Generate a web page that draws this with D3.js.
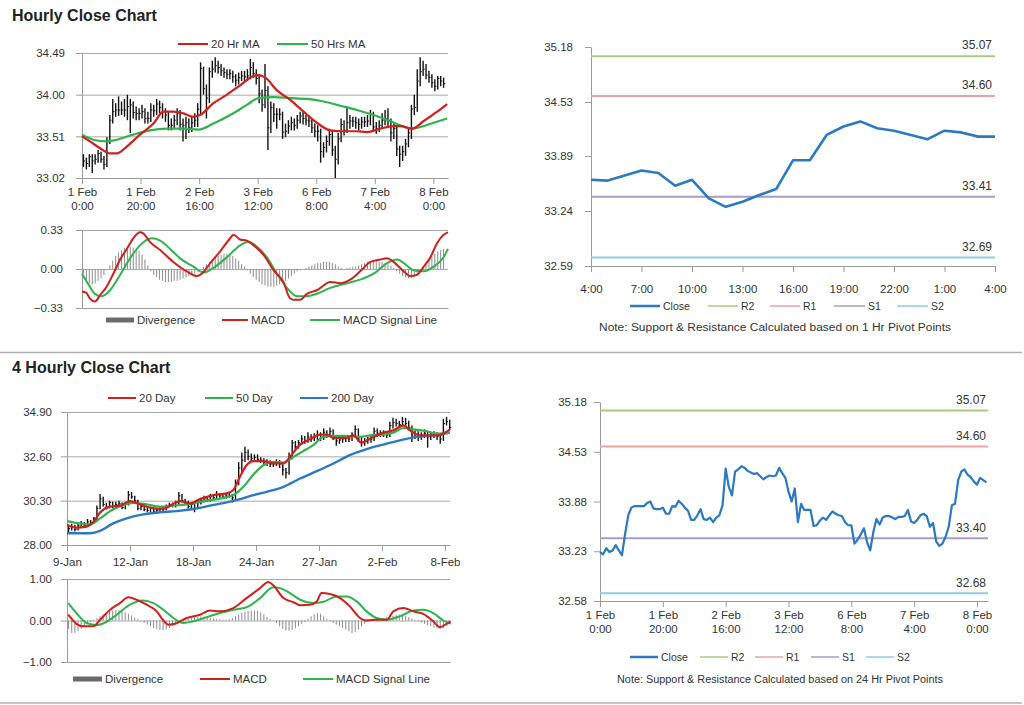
<!DOCTYPE html>
<html><head><meta charset="utf-8">
<script src="https://cdn.jsdelivr.net/npm/d3@7"></script>
<style>
body{margin:0;background:#fff;}
svg{display:block;}
</style></head><body>
<svg id="c" width="1024" height="705"></svg>
<script>
// ---------------- DATA ----------------
// Hourly series (1 Feb 0:00 .. 8 Feb ~3:00), one value per trading hour
const hourlyClose = [33.22,33.19,33.27,33.22,33.24,33.31,33.24,33.18,33.46,33.70,33.80,33.82,33.82,33.82,33.82,33.86,33.88,33.79,33.78,33.78,33.80,33.72,33.72,33.82,33.81,33.89,33.85,33.80,33.76,33.64,33.64,33.70,33.78,33.65,33.64,33.67,33.61,33.67,33.70,33.83,34.31,34.07,33.96,34.27,34.30,34.34,34.32,34.28,34.26,34.24,34.25,34.21,34.17,34.20,34.22,34.21,34.22,34.32,34.25,34.19,34.01,33.88,34.05,33.61,33.85,33.77,33.77,33.77,33.56,33.57,33.63,33.67,33.64,33.70,33.75,33.72,33.70,33.69,33.61,33.57,33.57,33.33,33.38,33.45,33.53,33.35,33.24,33.48,33.65,33.58,33.67,33.69,33.69,33.67,33.65,33.68,33.68,33.69,33.77,33.62,33.60,33.64,33.70,33.72,33.69,33.55,33.60,33.36,33.30,33.33,33.42,33.55,33.83,33.85,34.16,34.27,34.30,34.23,34.20,34.14,34.10,34.19,34.16,34.13];
const hourlyHigh = [33.30,33.26,33.30,33.30,33.30,33.35,33.33,33.28,33.50,33.76,33.95,33.90,33.98,33.92,33.95,34.00,33.95,33.92,33.86,33.84,33.88,33.84,33.80,33.90,33.88,33.95,33.93,33.90,33.84,33.80,33.72,33.76,33.84,33.82,33.72,33.74,33.72,33.74,33.78,33.90,34.38,34.33,34.12,34.32,34.40,34.44,34.40,34.36,34.32,34.30,34.30,34.28,34.24,34.26,34.28,34.28,34.30,34.42,34.38,34.30,34.24,34.06,34.36,34.10,33.92,33.90,33.84,33.84,33.80,33.66,33.70,33.74,33.72,33.76,33.80,33.80,33.76,33.76,33.72,33.66,33.64,33.60,33.44,33.52,33.60,33.58,33.40,33.55,33.72,33.70,33.85,33.76,33.74,33.74,33.72,33.74,33.74,33.76,33.82,33.80,33.68,33.70,33.78,33.82,33.84,33.72,33.66,33.62,33.40,33.40,33.48,33.60,33.88,34.00,34.30,34.44,34.40,34.36,34.28,34.24,34.18,34.22,34.22,34.20];
const hourlyLow = [33.15,33.12,33.15,33.08,33.18,33.20,33.20,33.12,33.15,33.42,33.66,33.74,33.75,33.76,33.74,33.70,33.55,33.72,33.70,33.70,33.72,33.66,33.66,33.68,33.74,33.76,33.78,33.72,33.68,33.58,33.58,33.60,33.64,33.58,33.45,33.48,33.55,33.56,33.62,33.62,33.76,34.00,33.72,33.90,34.20,34.26,34.25,34.22,34.20,34.18,34.18,34.14,34.10,34.12,34.16,34.15,34.16,34.18,34.20,34.12,33.90,33.80,33.84,33.35,33.55,33.68,33.60,33.70,33.48,33.50,33.54,33.58,33.58,33.60,33.66,33.65,33.64,33.62,33.55,33.50,33.45,33.20,33.26,33.32,33.40,33.28,33.02,33.18,33.44,33.52,33.55,33.60,33.62,33.60,33.58,33.60,33.62,33.62,33.64,33.56,33.54,33.56,33.60,33.64,33.62,33.45,33.48,33.28,33.15,33.22,33.28,33.38,33.48,33.76,33.80,34.10,34.22,34.18,34.14,34.08,34.04,34.06,34.10,34.08];
const ma20Hr = [[0,33.51],[2.7,33.45],[6.2,33.37],[9.6,33.31],[11.9,33.31],[15.3,33.39],[19.8,33.53],[24.4,33.66],[27.8,33.80],[31.2,33.80],[34.6,33.78],[38.1,33.74],[40.3,33.76],[44.9,33.90],[49.5,34.00],[54,34.11],[58.6,34.22],[60.3,34.23],[62.6,34.20],[66.6,34.05],[71.1,33.94],[75.7,33.80],[80.2,33.67],[84.8,33.58],[89.3,33.57],[93.9,33.57],[97.3,33.56],[101.9,33.60],[106.4,33.63],[108.7,33.63],[112.7,33.60],[116.7,33.69],[121.3,33.80],[124.7,33.89]];
const ma50Hr = [[0,33.53],[3.9,33.47],[8.4,33.45],[11.9,33.47],[17.5,33.53],[23.2,33.58],[28.9,33.60],[34.6,33.60],[39.8,33.59],[44.9,33.66],[50.6,33.76],[56.3,33.88],[60.3,33.96],[65.4,33.97],[71.1,33.96],[76.8,33.95],[82.5,33.92],[88.2,33.87],[93.9,33.82],[99.6,33.76],[105.3,33.69],[108.7,33.64],[112.7,33.60],[115.6,33.62],[120.1,33.67],[124.7,33.72]];
const hourlyMacd = [[0,-0.19],[1.4,-0.20],[2.7,-0.25],[4.4,-0.275],[6.2,-0.22],[8.4,-0.15],[10.7,-0.04],[13,0.08],[15.3,0.17],[17.5,0.26],[19.8,0.31],[21,0.30],[23.2,0.23],[26.7,0.16],[31.2,0.06],[35.8,-0.02],[39.2,-0.06],[40.9,-0.04],[43.8,0.05],[47.2,0.15],[50.6,0.26],[51.7,0.29],[54,0.25],[56.3,0.24],[58.6,0.20],[62,0.12],[65.4,-0.01],[68.8,-0.11],[71.1,-0.25],[72.2,-0.26],[74.5,-0.26],[76.8,-0.21],[80.2,-0.18],[84.8,-0.11],[88.2,-0.12],[91.6,-0.09],[95,-0.02],[98.5,0.06],[101.9,0.08],[104.2,0.09],[106.4,0.06],[109.9,-0.02],[112.1,-0.06],[114.4,-0.05],[116.7,0.02],[119,0.10],[121.3,0.22],[123.5,0.29],[125,0.31]];
const hourlySignal = [[0,-0.04],[2.2,-0.13],[4.4,-0.21],[6.7,-0.23],[9.6,-0.18],[13,-0.05],[16.4,0.09],[19.8,0.20],[23.8,0.26],[26.7,0.24],[30.1,0.17],[33.5,0.09],[38.1,0.02],[41.5,-0.03],[44.9,0.01],[49.5,0.10],[54,0.20],[56.9,0.23],[59.7,0.19],[63.1,0.10],[66.6,-0.04],[70,-0.16],[73.4,-0.23],[76.8,-0.23],[80.2,-0.21],[84.8,-0.16],[90.5,-0.12],[95,-0.09],[99.6,-0.04],[104.2,0.05],[107.6,0.08],[109.9,0.05],[113.3,-0.01],[116.7,-0.02],[120.1,0.02],[123.5,0.10],[125,0.17]];
const hourlyDiv = [-0.04,-0.09,-0.12,-0.13,-0.12,-0.10,-0.08,-0.05,-0.01,0.03,0.07,0.11,0.14,0.16,0.18,0.19,0.19,0.18,0.17,0.15,0.12,0.08,0.03,-0.02,-0.05,-0.07,-0.09,-0.10,-0.11,-0.11,-0.11,-0.10,-0.10,-0.09,-0.08,-0.07,-0.06,-0.05,-0.04,-0.02,0.00,0.02,0.04,0.06,0.08,0.10,0.11,0.12,0.13,0.13,0.12,0.11,0.09,0.07,0.04,0.02,-0.01,-0.04,-0.07,-0.09,-0.11,-0.13,-0.14,-0.15,-0.15,-0.15,-0.14,-0.13,-0.12,-0.10,-0.08,-0.06,-0.04,-0.02,-0.01,0.00,0.01,0.02,0.03,0.04,0.05,0.05,0.06,0.06,0.06,0.05,0.04,0.02,0.01,0.00,0.01,0.01,0.02,0.02,0.03,0.04,0.05,0.06,0.06,0.07,0.07,0.06,0.06,0.05,0.04,0.03,0.01,-0.02,-0.04,-0.06,-0.07,-0.08,-0.08,-0.07,-0.05,-0.02,0.02,0.05,0.08,0.11,0.13,0.15,0.16,0.17];
const hourlyTickIdx = [0,20,40,60,80,100,120];
const hourlyTickLabels = [["1 Feb","0:00"],["1 Feb","20:00"],["2 Feb","16:00"],["3 Feb","12:00"],["6 Feb","8:00"],["7 Feb","4:00"],["8 Feb","0:00"]];
const hourlyPriceTicks = [33.02,33.51,34.00,34.49];
const hourlyMacdTicks = [-0.33,0.00,0.33];

// 1 Hr pivot panel (last 24 hours)
const pivot1Close = [33.61,33.60,33.66,33.72,33.69,33.54,33.61,33.39,33.29,33.35,33.43,33.50,33.84,33.84,34.14,34.24,34.30,34.22,34.19,34.14,34.09,34.19,34.17,34.12,34.12];
const pivot1Labels = ["4:00","7:00","10:00","13:00","16:00","19:00","22:00","1:00","4:00"];
const pivot1Ticks = [32.59,33.24,33.89,34.53,35.18];
const pivot1Levels = [{k:"R2",v:35.07},{k:"R1",v:34.60},{k:"S1",v:33.41},{k:"S2",v:32.69}];
const pivot24Ticks = [32.58,33.23,33.88,34.53,35.18];
const pivot24Levels = [{k:"R2",v:35.07},{k:"R1",v:34.60},{k:"S1",v:33.40},{k:"S2",v:32.68}];

// 4-hourly series (9 Jan .. 8 Feb)
const h4Close = [28.85,28.95,28.80,29.00,29.10,29.00,29.20,29.15,29.35,29.90,30.40,30.10,29.95,30.20,30.00,30.10,30.15,29.95,30.10,30.60,30.50,30.30,29.90,30.00,29.85,29.80,29.90,29.75,29.80,29.85,29.90,30.00,30.10,30.05,30.20,30.55,30.30,30.20,30.00,30.10,29.90,30.20,30.30,30.40,30.35,30.50,30.45,30.60,30.55,30.50,30.60,30.55,30.45,31.20,32.00,32.40,32.80,32.60,32.50,32.55,32.45,32.40,32.30,32.25,32.20,32.20,32.30,32.20,31.90,31.75,32.60,33.30,33.10,33.30,33.50,33.40,33.60,33.50,33.60,33.70,33.55,33.85,33.70,33.90,33.60,33.40,33.45,33.50,33.55,33.50,33.70,34.00,33.50,33.30,33.40,33.45,33.50,33.90,33.80,33.75,33.80,33.70,34.20,34.35,34.30,34.25,34.40,34.30,34.10,33.70,33.75,33.60,33.70,33.80,33.60,33.70,33.75,33.65,33.50,34.30,34.40,34.10];
const h4High = [29.05,29.10,29.05,29.15,29.25,29.20,29.35,29.30,29.45,30.05,30.65,30.50,30.20,30.30,30.25,30.25,30.30,30.20,30.20,30.80,30.75,30.55,30.35,30.10,30.10,29.95,30.00,29.95,29.90,29.95,30.00,30.10,30.20,30.20,30.30,30.75,30.65,30.40,30.30,30.20,30.20,30.30,30.45,30.55,30.50,30.65,30.60,30.80,30.70,30.65,30.70,30.70,30.65,31.40,32.30,32.80,33.10,32.95,32.75,32.70,32.70,32.55,32.50,32.45,32.40,32.35,32.45,32.40,32.30,32.00,32.80,33.45,33.40,33.45,33.70,33.65,33.85,33.75,33.80,33.95,33.85,34.05,33.95,34.10,34.00,33.70,33.60,33.65,33.70,33.70,33.85,34.20,34.05,33.60,33.55,33.60,33.65,34.10,34.05,33.95,33.95,33.90,34.40,34.60,34.55,34.45,34.65,34.60,34.45,34.20,33.95,33.90,33.85,34.00,33.90,33.85,33.90,33.85,33.75,34.55,34.65,34.50];
const h4Low = [28.65,28.75,28.70,28.75,28.95,28.90,28.95,29.05,29.10,29.30,29.85,30.00,29.85,29.90,29.90,29.95,30.00,29.85,29.85,30.05,30.40,30.20,29.80,29.80,29.75,29.70,29.70,29.65,29.65,29.70,29.75,29.80,29.95,29.95,29.95,30.10,30.20,30.10,29.90,29.90,29.70,29.85,30.10,30.20,30.25,30.25,30.35,30.40,30.45,30.40,30.40,30.45,30.20,30.35,31.10,31.80,32.30,32.40,32.35,32.40,32.30,32.25,32.15,32.10,32.05,32.05,32.10,32.00,31.60,31.45,31.65,32.45,32.95,33.00,33.20,33.25,33.30,33.35,33.40,33.45,33.40,33.45,33.55,33.60,33.45,33.15,33.25,33.30,33.35,33.35,33.40,33.55,33.35,33.10,33.15,33.25,33.30,33.40,33.60,33.60,33.60,33.55,33.60,34.05,34.15,34.10,34.15,34.15,33.95,33.35,33.50,33.40,33.45,33.55,33.05,33.45,33.55,33.45,33.25,33.40,34.20,33.95];
const ma20Day = [[0,29.04],[3,28.90],[6.2,28.95],[8.4,29.20],[10.5,29.69],[13.7,29.99],[16.8,30.04],[20,30.28],[23.2,30.11],[27.4,29.90],[30.6,29.87],[32.7,30.04],[35.9,30.28],[39,30.16],[42.2,30.38],[46.5,30.59],[50.7,30.68],[52.8,30.85],[54.9,31.54],[57,32.14],[59.2,32.35],[62.3,32.35],[65.5,32.23],[68.7,32.23],[70.8,32.57],[74,33.21],[77.1,33.49],[80.3,33.73],[82.4,33.73],[84.6,33.56],[88.8,33.56],[90.9,33.69],[93.5,33.31],[96.2,33.52],[100.4,33.83],[103.6,33.95],[106.8,34.21],[108.9,33.95],[112,33.69],[115.2,33.69],[117.9,33.69],[120,33.83],[121.6,34.00]];
const ma50Day = [[0,29.24],[4.1,29.12],[7.3,29.07],[10.5,29.38],[13.7,29.76],[17.9,30.07],[21,30.19],[25.3,30.11],[29.5,29.99],[33.8,30.04],[38,30.11],[42.2,30.24],[47.5,30.38],[52.8,30.59],[56,31.02],[59.2,31.66],[62.3,32.14],[65.5,32.31],[68.7,32.28],[71.9,32.57],[75,32.87],[78.2,33.18],[81.4,33.61],[84.6,33.66],[88.8,33.66],[93,33.61],[96.2,33.69],[100.4,33.73],[103.6,33.83],[106.8,34.07],[110,34.00],[114.2,33.90],[117.4,33.78],[121.6,33.83]];
const ma200Day = [[0,28.61],[7.3,28.61],[10.5,28.73],[14.7,29.12],[18.9,29.38],[24.2,29.59],[29.5,29.69],[34.8,29.76],[40.1,29.87],[45.4,30.04],[50.7,30.21],[54.9,30.38],[59.2,30.59],[63.4,30.76],[68.7,31.02],[74,31.45],[79.3,31.83],[84.6,32.23],[89.8,32.66],[95.1,32.97],[100.4,33.21],[105.7,33.43],[111,33.61],[116.3,33.69],[121.6,33.83]];
const h4Macd = [[0.4,0.14],[3,-0.08],[5.2,-0.14],[8.4,-0.14],[10.5,0.02],[13.7,0.26],[16.8,0.42],[19.5,0.56],[22.1,0.50],[25.3,0.38],[28.5,0.22],[30.6,0.00],[32.2,-0.10],[34.3,-0.08],[38,0.06],[42.2,0.14],[45.4,0.24],[48.6,0.22],[52.8,0.30],[57,0.54],[61.3,0.78],[63.9,0.93],[65.5,0.85],[68.7,0.54],[71.9,0.44],[74,0.37],[77.1,0.38],[79.3,0.46],[80.8,0.66],[83.5,0.64],[86.7,0.54],[89.8,0.34],[93,0.06],[95.1,0.00],[98.3,0.02],[101.5,0.02],[103.6,0.22],[106.8,0.30],[110,0.22],[113.1,0.16],[116.3,-0.02],[118.4,-0.16],[120.5,-0.08],[121.8,-0.02]];
const h4Signal = [[0.4,0.42],[3,0.18],[6.2,-0.06],[9.4,-0.11],[12.6,-0.03],[15.8,0.14],[20,0.38],[24.2,0.48],[27.4,0.42],[30.6,0.26],[33.8,0.06],[36.9,-0.06],[40.1,-0.02],[44.3,0.08],[48.6,0.18],[52.8,0.26],[57,0.32],[61.3,0.54],[65.5,0.80],[67.6,0.78],[70.8,0.66],[74,0.50],[78.2,0.42],[81.4,0.45],[85.6,0.58],[88.8,0.58],[92,0.46],[95.1,0.22],[98.3,0.06],[101.5,0.02],[105.7,0.10],[110,0.24],[113.1,0.26],[116.3,0.18],[119.5,0.00],[121.8,-0.08]];
const h4Div = [-0.20,-0.30,-0.30,-0.26,-0.20,-0.14,-0.08,-0.03,0.02,0.06,0.10,0.14,0.18,0.22,0.24,0.25,0.25,0.23,0.20,0.16,0.12,0.07,0.03,-0.02,-0.06,-0.10,-0.14,-0.18,-0.21,-0.23,-0.24,-0.22,-0.18,-0.13,-0.08,-0.04,-0.01,0.02,0.04,0.06,0.08,0.09,0.10,0.09,0.08,0.06,0.05,0.04,0.03,0.02,0.02,0.03,0.06,0.10,0.14,0.18,0.21,0.23,0.24,0.24,0.23,0.20,0.15,0.09,0.04,0.00,-0.06,-0.14,-0.20,-0.24,-0.25,-0.23,-0.19,-0.14,-0.08,-0.03,0.04,0.10,0.15,0.18,0.16,0.10,0.04,-0.02,-0.06,-0.10,-0.14,-0.18,-0.22,-0.26,-0.30,-0.28,-0.22,-0.15,-0.08,-0.03,0.01,0.02,0.03,0.04,0.06,0.08,0.10,0.12,0.14,0.15,0.14,0.11,0.08,0.05,0.02,-0.02,-0.05,-0.08,-0.11,-0.14,-0.17,-0.19,-0.20,-0.18,-0.12,-0.06];
const h4TickIdx = [0,20,40,60,80,100,120];
const h4TickLabels = ["9-Jan","12-Jan","18-Jan","24-Jan","27-Jan","2-Feb","8-Feb"];
const h4PriceTicks = [28.00,30.30,32.60,34.90];
const h4MacdTicks = [-1.00,0.00,1.00];

// ---------------- STYLE ----------------
const FF = 'Arial, "Liberation Sans", sans-serif';
const FS = 11.5;
const TXT = '#333';
const AXC = '#9a9a9a';
const GRID = '#a9a9a9';
const RED = '#d0201c';
const GREEN = '#2fb34e';
const BLUE = '#2b79c2';
const LEVELC = {R2:'#a8cc7c', R1:'#eaa3a3', S1:'#a99bc9', S2:'#8fcde0'};

const svg = d3.select('#c').attr('font-family', FF);

function styleAxis(g, grid){
  g.select('.domain').attr('stroke', AXC);
  g.selectAll('.tick line').attr('stroke', grid ? GRID : AXC);
  g.selectAll('.tick text').attr('fill', TXT).attr('font-size', FS).attr('font-family', FF);
}
function yAxis(x0, x1, y, ticks, pad, grid){
  const g = svg.append('g').attr('transform', `translate(${x0},0)`)
    .call(d3.axisLeft(y).tickValues(ticks).tickSizeInner(6).tickSizeOuter(0).tickPadding(pad).tickFormat(d3.format('.2f')));
  styleAxis(g, false);
  if (grid) {
    const gg = svg.append('g').attr('transform', `translate(${x0},0)`)
      .call(d3.axisLeft(y).tickValues(grid).tickSize(-(x1 - x0)).tickFormat(''));
    gg.select('.domain').remove();
    gg.selectAll('.tick line').attr('stroke', GRID);
  }
  return g;
}
function xAxis(y0, x, ticks, labels, pad, twoLine){
  const g = svg.append('g').attr('transform', `translate(0,${y0})`)
    .call(d3.axisBottom(x).tickValues(ticks).tickSizeInner(6).tickSizeOuter(0).tickPadding(pad).tickFormat((d,i)=> twoLine ? '' : labels[i]));
  styleAxis(g, false);
  if (twoLine) {
    g.selectAll('.tick text').each(function(d,i){
      const t = d3.select(this);
      t.append('tspan').attr('x',0).attr('dy',0).text(labels[i][0]);
      t.append('tspan').attr('x',0).attr('dy','1.25em').text(labels[i][1]);
    });
  }
  return g;
}
function legendLine(x, y, w, color, label, sw, fs){
  svg.append('line').attr('x1',x).attr('x2',x+w).attr('y1',y).attr('y2',y).attr('stroke',color).attr('stroke-width',sw||2);
  svg.append('text').attr('x',x+w+3).attr('y',y).attr('dy','0.35em').attr('font-size',fs||11.5).attr('fill',TXT).text(label);
}
function legendBlock(x, y, w, label, fs){
  svg.append('rect').attr('x',x).attr('y',y-2.5).attr('width',w).attr('height',5).attr('fill','#6b6b6b');
  svg.append('text').attr('x',x+w+3).attr('y',y).attr('dy','0.35em').attr('font-size',fs||11.5).attr('fill',TXT).text(label);
}
function pairLine(x, y, data, color, w){
  svg.append('path').datum(data)
    .attr('d', d3.line().x(d=>x(d[0])).y(d=>y(d[1])).curve(d3.curveMonotoneX))
    .attr('fill','none').attr('stroke',color).attr('stroke-width',w||2);
}
function candles(x, y, closes, highs, lows, w){
  const g = svg.append('g');
  g.selectAll('line.hl').data(closes).join('line').attr('class','hl')
    .attr('x1',(d,i)=>x(i+0.5)).attr('x2',(d,i)=>x(i+0.5))
    .attr('y1',(d,i)=>y(highs[i])).attr('y2',(d,i)=>y(lows[i]))
    .attr('stroke','#111').attr('stroke-width',w);
  g.selectAll('line.cl').data(closes).join('line').attr('class','cl')
    .attr('x1',(d,i)=>x(i+0.5)).attr('x2',(d,i)=>x(i+0.5)+1.6)
    .attr('y1',d=>y(d)).attr('y2',d=>y(d))
    .attr('stroke','#111').attr('stroke-width',1);
}
function divBars(x, y, vals){
  svg.append('g').selectAll('line').data(vals).join('line')
    .attr('x1',(d,i)=>x(i+0.5)).attr('x2',(d,i)=>x(i+0.5))
    .attr('y1',y(0)).attr('y2',d=>y(d))
    .attr('stroke','#8a8a8a').attr('stroke-width',1);
}

// ---------------- TITLES / SEPARATORS ----------------
svg.append('text').attr('x',12).attr('y',21).attr('font-size',16).attr('font-weight','bold').attr('fill','#222').text('Hourly Close Chart');
svg.append('text').attr('x',12).attr('y',373).attr('font-size',16).attr('font-weight','bold').attr('fill','#222').text('4 Hourly Close Chart');
svg.append('line').attr('x1',0).attr('x2',1022).attr('y1',352.5).attr('y2',352.5).attr('stroke','#b0b0b0').attr('stroke-width',1.5);
svg.append('line').attr('x1',0).attr('x2',1022).attr('y1',703).attr('y2',703).attr('stroke','#b0b0b0').attr('stroke-width',1.5);

// ---------------- PANEL 1: hourly candles ----------------
{
  const x = d3.scaleLinear().domain([0,125]).range([82,448]);
  const y = d3.scaleLinear().domain([33.02,34.49]).range([178,53]);
  yAxis(82, 448, y, hourlyPriceTicks, 11, [33.51,34.00,34.49]);
  candles(x, y, hourlyClose, hourlyHigh, hourlyLow, 1.4);
  pairLine(x, y, ma50Hr, GREEN, 2.2);
  pairLine(x, y, ma20Hr, RED, 2.2);
  xAxis(178, x, hourlyTickIdx, hourlyTickLabels, 12, true);
  legendLine(178, 44, 30, RED, '20 Hr MA');
  legendLine(277, 44, 31, GREEN, '50 Hrs MA');
}
// ---------------- PANEL 2: hourly MACD ----------------
{
  const x = d3.scaleLinear().domain([0,125]).range([82,448]);
  const y = d3.scaleLinear().domain([-0.33,0.33]).range([308,230]);
  yAxis(82, 448, y, hourlyMacdTicks, 13, [0,0.33]);
  const gx = svg.append('g').attr('transform','translate(0,308)').call(d3.axisBottom(x).tickValues([]).tickSizeOuter(0));
  styleAxis(gx,false);
  divBars(x, y, hourlyDiv);
  pairLine(x, y, hourlySignal, GREEN, 2);
  pairLine(x, y, hourlyMacd, RED, 2);
  legendBlock(106, 320, 28, 'Divergence');
  legendLine(222, 320, 26, RED, 'MACD');
  legendLine(310, 320, 30, GREEN, 'MACD Signal Line');
}
// ---------------- PANEL 3: 1 Hr pivots ----------------
{
  const x = d3.scaleLinear().domain([0,24]).range([591,995]);
  const y = d3.scaleLinear().domain([32.59,35.18]).range([266,47]);
  yAxis(591, 995, y, pivot1Ticks, 12, null);
  xAxis(266, x, d3.range(0,25,3), pivot1Labels, 13, false);
  pivot1Levels.forEach(l=>{
    svg.append('line').attr('x1',591).attr('x2',995).attr('y1',y(l.v)).attr('y2',y(l.v)).attr('stroke',LEVELC[l.k]).attr('stroke-width',2);
    svg.append('text').attr('x',992).attr('y',y(l.v)-7).attr('text-anchor','end').attr('font-size',12).attr('fill',TXT).text(l.v.toFixed(2));
  });
  svg.append('path').datum(pivot1Close).attr('d', d3.line().x((d,i)=>x(i)).y(d=>y(d)))
    .attr('fill','none').attr('stroke',BLUE).attr('stroke-width',2.6).attr('stroke-linejoin','round');
  legendLine(630, 306, 30, BLUE, 'Close', 2.5, 10.5);
  legendLine(708, 306, 30, LEVELC.R2, 'R2', 1.5, 10.5);
  legendLine(770, 306, 30, LEVELC.R1, 'R1', 1.5, 10.5);
  legendLine(834, 306, 31, LEVELC.S1, 'S1', 1.5, 10.5);
  legendLine(897, 306, 31, LEVELC.S2, 'S2', 1.5, 10.5);
  svg.append('text').attr('x',775).attr('y',331).attr('text-anchor','middle').attr('font-size',10).attr('fill',TXT)
    .attr('textLength',352).attr('lengthAdjust','spacingAndGlyphs')
    .text('Note: Support & Resistance Calculated based on 1 Hr Pivot Points');
}
// ---------------- PANEL 4: 4-hourly candles ----------------
{
  const x = d3.scaleLinear().domain([0,121.6]).range([67,450]);
  const y = d3.scaleLinear().domain([28.00,34.90]).range([545,412]);
  yAxis(67, 450, y, h4PriceTicks, 9, [30.30,32.60,34.90]);
  candles(x, y, h4Close, h4High, h4Low, 1.4);
  pairLine(x, y, ma200Day, BLUE, 2.4);
  pairLine(x, y, ma50Day, GREEN, 2.2);
  pairLine(x, y, ma20Day, RED, 2.2);
  xAxis(545, x, h4TickIdx, h4TickLabels, 7, false);
  legendLine(108, 398, 28, RED, '20 Day');
  legendLine(205, 398, 28, GREEN, '50 Day');
  legendLine(300, 398, 28, BLUE, '200 Day');
}
// ---------------- PANEL 5: 4-hourly MACD ----------------
{
  const x = d3.scaleLinear().domain([0,121.6]).range([67,450]);
  const y = d3.scaleLinear().domain([-1,1]).range([662,579]);
  yAxis(67, 450, y, h4MacdTicks, 9, [0,1]);
  const gx = svg.append('g').attr('transform','translate(0,662)').call(d3.axisBottom(x).tickValues([]).tickSizeOuter(0));
  styleAxis(gx,false);
  divBars(x, y, h4Div);
  pairLine(x, y, h4Signal, GREEN, 2);
  pairLine(x, y, h4Macd, RED, 2);
  legendBlock(73, 679, 29, 'Divergence');
  legendLine(200, 679, 30, RED, 'MACD');
  legendLine(303, 679, 30, GREEN, 'MACD Signal Line');
}
// ---------------- PANEL 6: 24 Hr pivots ----------------
{
  const x = d3.scaleLinear().domain([0,123.5]).range([600,988]);
  const y = d3.scaleLinear().domain([32.58,35.18]).range([601,402]);
  yAxis(600, 988, y, pivot24Ticks, 7, null);
  xAxis(601, x, hourlyTickIdx, hourlyTickLabels, 12, true);
  pivot24Levels.forEach(l=>{
    svg.append('line').attr('x1',600).attr('x2',988).attr('y1',y(l.v)).attr('y2',y(l.v)).attr('stroke',LEVELC[l.k]).attr('stroke-width',2);
    svg.append('text').attr('x',986).attr('y',y(l.v)-6).attr('text-anchor','end').attr('font-size',12).attr('fill',TXT).text(l.v.toFixed(2));
  });
  svg.append('path').datum(hourlyClose).attr('d', d3.line().x((d,i)=>x(i)).y(d=>y(d)))
    .attr('fill','none').attr('stroke',BLUE).attr('stroke-width',2.2).attr('stroke-linejoin','round');
  legendLine(630, 657, 28, BLUE, 'Close', 2.5, 10.5);
  legendLine(700, 657, 28, LEVELC.R2, 'R2', 1.5, 10.5);
  legendLine(755, 657, 28, LEVELC.R1, 'R1', 1.5, 10.5);
  legendLine(811, 657, 28, LEVELC.S1, 'S1', 1.5, 10.5);
  legendLine(866, 657, 28, LEVELC.S2, 'S2', 1.5, 10.5);
  svg.append('text').attr('x',780).attr('y',683).attr('text-anchor','middle').attr('font-size',10).attr('fill',TXT)
    .attr('textLength',326).attr('lengthAdjust','spacingAndGlyphs')
    .text('Note: Support & Resistance Calculated based on 24 Hr Pivot Points');
}
</script>
</body></html>
